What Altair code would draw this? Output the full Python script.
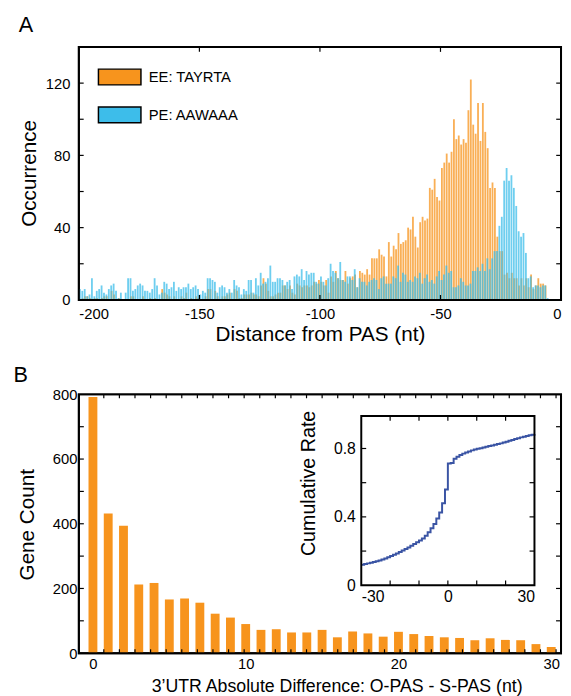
import altair as alt
import pandas as pd

FONT = "Liberation Sans"
ORANGE = "#F7941D"
BLUE = "#3DBDEA"
LINE_BLUE = "#3A54A4"

# ---------------- Panel A data ----------------
distance_nt = list(range(-200, -4))
ee_tayrta = [
    0, 1, 2, 2, 1, 0, 1, 1, 0, 1, 2, 2, 0, 5, 3, 0, 1, 0, 0, 0, 0, 2, 2, 0, 0, 0, 2, 0, 0, 1, 0, 1, 0,
    0, 6, 4, 3, 2, 0, 2, 0, 0, 2, 1, 4, 0, 1, 0, 2, 1, 0, 0, 2, 6, 6, 0, 5, 2, 0, 2, 2, 3, 4, 0, 6, 5,
    1, 1, 3, 3, 3, 4, 3, 3, 2, 8, 12, 9, 5, 2, 2, 3, 4, 4, 8, 8, 6, 8, 4, 3, 9, 8, 7, 8, 8, 7, 8, 10,
    9, 11, 10, 8, 11, 4, 13, 10, 16, 12, 11, 11, 16, 9, 12, 13, 14, 7, 16, 15, 14, 17, 14, 23, 23, 23, 28, 25, 24, 13, 32, 24, 30,
    28, 37, 31, 32, 33, 40, 39, 46, 35, 29, 43, 46, 44, 45, 62, 61, 67, 57, 55, 73, 76, 81, 76, 82, 100, 89, 91, 86, 89, 87, 105, 122,
    97, 92, 109, 88, 109, 93, 84, 62, 65, 62, 35, 27, 27, 14, 15, 12, 15, 12, 12, 8, 12, 8, 12, 7, 14, 6, 8, 12, 9, 9, 8,
    0, 0,
]
pe_aawaaa = [
    6, 5, 6, 2, 3, 12, 2, 5, 6, 8, 4, 3, 6, 8, 9, 5, 1, 4, 0, 4, 12, 12, 5, 6, 8, 9, 8, 5, 5, 4, 6, 12, 8,
    3, 4, 10, 9, 6, 7, 10, 5, 7, 6, 7, 7, 9, 6, 7, 8, 6, 3, 5, 4, 12, 12, 11, 10, 4, 7, 8, 7, 4, 6, 4, 11, 8,
    7, 3, 6, 5, 11, 11, 4, 12, 8, 15, 9, 10, 12, 19, 10, 10, 12, 12, 11, 8, 10, 11, 6, 13, 14, 13, 17, 11, 16, 14, 15, 15,
    10, 9, 13, 10, 8, 12, 20, 16, 15, 12, 21, 11, 10, 13, 13, 11, 17, 7, 12, 10, 10, 8, 10, 11, 12, 11, 6, 12, 13, 9, 9, 9, 13,
    12, 19, 10, 15, 14, 10, 11, 10, 13, 12, 15, 9, 12, 14, 10, 11, 9, 13, 16, 11, 14, 19, 15, 16, 7, 7, 8, 12, 10, 8, 8, 9,
    16, 16, 18, 16, 20, 16, 23, 17, 23, 27, 27, 41, 46, 66, 73, 66, 69, 62, 52, 38, 35, 37, 26, 12, 13, 7, 8, 8, 7, 8, 8,
    1, 0,
]
a_x_labels = [-200, -150, -100, -50, 0]
a_x_ticks = [-150, -100, -50]
a_y_labels = [0, 40, 80, 120]
a_y_ticks = [20, 40, 60, 80, 100, 120]
motifs = ["EE: TAYRTA", "PE: AAWAAA"]

# ---------------- Panel B data ----------------
abs_diff = list(range(0, 31))
gene_count = [792, 432, 394, 212, 217, 166, 169, 156, 122, 110, 90, 72, 74, 64, 64, 72,
              49, 67, 61, 51, 66, 59, 53, 49, 47, 40, 46, 41, 40, 28, 19]
b_x_labels = [0, 10, 20, 30]
b_x_ticks = list(range(1, 31))
b_y_labels = [0, 200, 400, 600, 800]
b_y_ticks = [100, 200, 300, 400, 500, 600, 700]

# ---------------- Inset data ----------------
delta_nt = list(range(-30, 31))
cum_rate = [0.120, 0.124, 0.128, 0.132, 0.136, 0.140, 0.145, 0.151, 0.157, 0.164,
            0.171, 0.178, 0.186, 0.194, 0.203, 0.212, 0.221, 0.231, 0.241, 0.251,
            0.262, 0.274, 0.290, 0.310, 0.333, 0.358, 0.390, 0.425, 0.480, 0.560,
            0.712, 0.715, 0.740, 0.752, 0.762, 0.770, 0.777, 0.783, 0.789, 0.794,
            0.798, 0.802, 0.806, 0.810, 0.814, 0.818, 0.822, 0.826, 0.830, 0.835,
            0.840, 0.845, 0.850, 0.855, 0.860, 0.865, 0.869, 0.873, 0.877, 0.881, 0.885]
i_x_labels = [-30, 0, 30]
i_x_ticks = [-20, -10, 0, 10, 20]
i_y_labels = [0, 0.4, 0.8]
i_y_ticks = [0.2, 0.4, 0.6, 0.8]

# ---------------- geometry / scales ----------------
WA, HA = 490, 257
WB, HB = 490, 263
XA_DOM = [-200, 0]
YA_DOM = [0, 140]
XB_DOM = [-0.6, 30.32]
YB_DOM = [0, 800]
XI_DOM = [-30, 30]
YI_DOM = [0, 0.99]

XA = alt.Scale(domain=XA_DOM, nice=False, zero=False)
YA = alt.Scale(domain=YA_DOM, nice=False, zero=False)
XB = alt.Scale(domain=XB_DOM, nice=False, zero=False)
YB = alt.Scale(domain=YB_DOM, nice=False, zero=False)
XI = alt.Scale(domain=XI_DOM, range=[287, 463], nice=False, zero=False)
YI = alt.Scale(domain=YI_DOM, range=[194, 22], nice=False, zero=False)
COLOR = alt.Scale(domain=motifs, range=[ORANGE, BLUE])

NOAX = alt.Axis(labels=False, title=None, domain=False, ticks=False, grid=False,
                labelPadding=0, titlePadding=0)


def frame(xd, yd, xs, ys, width=2, ax=None):
    df = pd.DataFrame({"fx0": [xd[0]], "fx1": [xd[1]], "fy0": [yd[0]], "fy1": [yd[1]]})
    kx = {} if ax is None else {"axis": ax}
    return alt.Chart(df).mark_rect(fill="white", fillOpacity=0, stroke="black",
                                   strokeWidth=width).encode(
        x=alt.X("fx0:Q", scale=xs, **kx), x2="fx1:Q",
        y=alt.Y("fy0:Q", scale=ys, **kx), y2="fy1:Q")


def xticks(vals, xs, ys, yd, length):
    bottom = pd.DataFrame({"tv": vals, "t0": yd[0], "t1": yd[0] + length})
    top = pd.DataFrame({"tv": vals, "t0": yd[1], "t1": yd[1] - length})
    df = pd.concat([bottom, top], ignore_index=True)
    return alt.Chart(df).mark_rule(color="black", strokeWidth=1.2).encode(
        x=alt.X("tv:Q", scale=xs), y=alt.Y("t0:Q", scale=ys), y2="t1:Q")


def yticks(vals, xs, ys, xd, length):
    left = pd.DataFrame({"tv": vals, "t0": xd[0], "t1": xd[0] + length})
    right = pd.DataFrame({"tv": vals, "t0": xd[1], "t1": xd[1] - length})
    df = pd.concat([left, right], ignore_index=True)
    return alt.Chart(df).mark_rule(color="black", strokeWidth=1.2).encode(
        y=alt.Y("tv:Q", scale=ys), x=alt.X("t0:Q", scale=xs), x2="t1:Q")


def boxed(xd, yd, w, h, xt, yt, xlen, ylen):
    """Frame and inward ticks with their own scales, sized to the plot area."""
    xs = alt.Scale(domain=xd, range=[0, w], nice=False, zero=False)
    ys = alt.Scale(domain=yd, range=[h, 0], nice=False, zero=False)
    return alt.layer(
        frame(xd, yd, xs, ys, ax=NOAX),
        xticks(xt, xs, ys, yd, ylen),
        yticks(yt, xs, ys, xd, xlen),
    )


# ---------------- Panel A ----------------
legA = alt.Legend(orient="none", legendX=32.5, legendY=21.5, title=None,
                  symbolType="M-2.7,-1H2.7V1H-2.7Z", symbolSize=256,
                  symbolStrokeColor="black", symbolStrokeWidth=1.5, symbolOpacity=1,
                  labelFontSize=15, labelOffset=20.5, rowPadding=16.5, padding=0,
                  labelColor="black", labelFont=FONT)

axA_x = alt.Axis(values=a_x_labels, labelExpr="datum.value + ''", labelFlush=True,
                 labelFontSize=15, labelPadding=7, title="Distance from PAS (nt)",
                 titleFontSize=21, titleX=245, titleY=35, titleBaseline="middle",
                 titleAlign="center")
axA_y = alt.Axis(values=a_y_labels, labelFontSize=15, labelPadding=9, title="Occurrence",
                 titleFontSize=21, titleX=-50, titleY=128, titleBaseline="middle",
                 titleAlign="center", titleAngle=270)

ee_df = pd.DataFrame({"nt": distance_nt, "count": ee_tayrta, "motif": motifs[0]})
pe_df = pd.DataFrame({"nt": distance_nt, "count": pe_aawaaa, "motif": motifs[1]})

ee_bars = alt.Chart(ee_df).transform_calculate(
    left="datum.nt + 0.2", right="datum.nt + 0.95", base="0"
).mark_bar(opacity=0.75).encode(
    x=alt.X("left:Q", scale=XA, axis=axA_x), x2="right:Q",
    y=alt.Y("count:Q", scale=YA, axis=axA_y), y2="base:Q",
    color=alt.Color("motif:N", scale=COLOR, legend=legA),
)
pe_bars = alt.Chart(pe_df).transform_calculate(
    left="datum.nt + 0.05", right="datum.nt + 0.8", base="0"
).mark_bar(opacity=0.75).encode(
    x=alt.X("left:Q", scale=XA), x2="right:Q",
    y=alt.Y("count:Q", scale=YA), y2="base:Q",
    color=alt.Color("motif:N", scale=COLOR, legend=legA),
)

frameA = boxed(XA_DOM, YA_DOM, WA, HA, a_x_ticks, a_y_ticks, 2.0, 2.7)

panelA = alt.layer(alt.layer(ee_bars, pe_bars), frameA).resolve_scale(
    x="independent", y="independent"
).properties(width=WA, height=HA,
             title=alt.TitleParams("A", anchor="start", fontSize=22, offset=9, dx=0))

# ---------------- Panel B ----------------
axB_x = alt.Axis(values=b_x_labels, format="d", labelFontSize=15, labelPadding=4,
                 labelFlush=6, title="3\u2019UTR Absolute Difference: O-PAS - S-PAS (nt)",
                 titleFontSize=18, titleX=262, titleY=34, titleBaseline="middle",
                 titleAlign="center")
axB_y = alt.Axis(values=b_y_labels, format="d", labelFontSize=15, labelPadding=2,
                 title="Gene Count", titleFontSize=21, titleX=-52.5, titleY=132,
                 titleBaseline="middle", titleAlign="center", titleAngle=270)

b_df = pd.DataFrame({"diff": abs_diff, "genes": gene_count})
barsB = alt.Chart(b_df).mark_bar(size=9, color=ORANGE).encode(
    x=alt.X("diff:Q", scale=XB, axis=axB_x),
    y=alt.Y("genes:Q", scale=YB, axis=axB_y),
)
frameB = boxed(XB_DOM, YB_DOM, WB, HB, b_x_ticks, b_y_ticks, 0.32, 12)

axI_x = alt.Axis(orient="bottom", offset=-69, values=i_x_labels, labelExpr="datum.value + ''",
                 labelFontSize=16, labelPadding=4, title=None)
axI_y = alt.Axis(orient="left", offset=-287, values=i_y_labels,
                 labelExpr="datum.value == 0 ? '0' : format(datum.value, '.1f')",
                 labelFontSize=16, labelPadding=6, title="Cumulative Rate",
                 titleFontSize=20, titleX=-54, titleY=90, titleBaseline="middle",
                 titleAlign="center", titleAngle=270)

i_df = pd.DataFrame({"delta": delta_nt, "rate": cum_rate})
lineI = alt.Chart(i_df).mark_line(interpolate="step-after", color=LINE_BLUE, strokeWidth=2).encode(
    x=alt.X("delta:Q", scale=XI, axis=axI_x),
    y=alt.Y("rate:Q", scale=YI, axis=axI_y),
)
inset = alt.layer(
    lineI, frame(XI_DOM, YI_DOM, XI, YI),
    xticks(i_x_ticks, XI, YI, YI_DOM, 0.028),
    yticks(i_y_ticks, XI, YI, XI_DOM, 1.7),
)

panelB = alt.layer(barsB, frameB, inset).resolve_scale(x="independent", y="independent").properties(
    width=WB, height=HB,
    title=alt.TitleParams("B", anchor="start", fontSize=22, offset=1, dx=-3))

chart = alt.vconcat(panelA, panelB, spacing=18).resolve_scale(
    color="independent").resolve_legend(color="independent").properties(
    padding={"left": 4, "top": 0, "right": 0, "bottom": 0}
).configure(font=FONT).configure_view(stroke="black", strokeWidth=2).configure_axis(
    labelFont=FONT, titleFont=FONT, labelColor="black", titleColor="black",
    titleFontWeight="normal", domain=False, ticks=False, grid=False
).configure_title(font=FONT, fontWeight="normal", color="black")

chart.save("out.html", embed_options={"renderer": "svg", "actions": False})
